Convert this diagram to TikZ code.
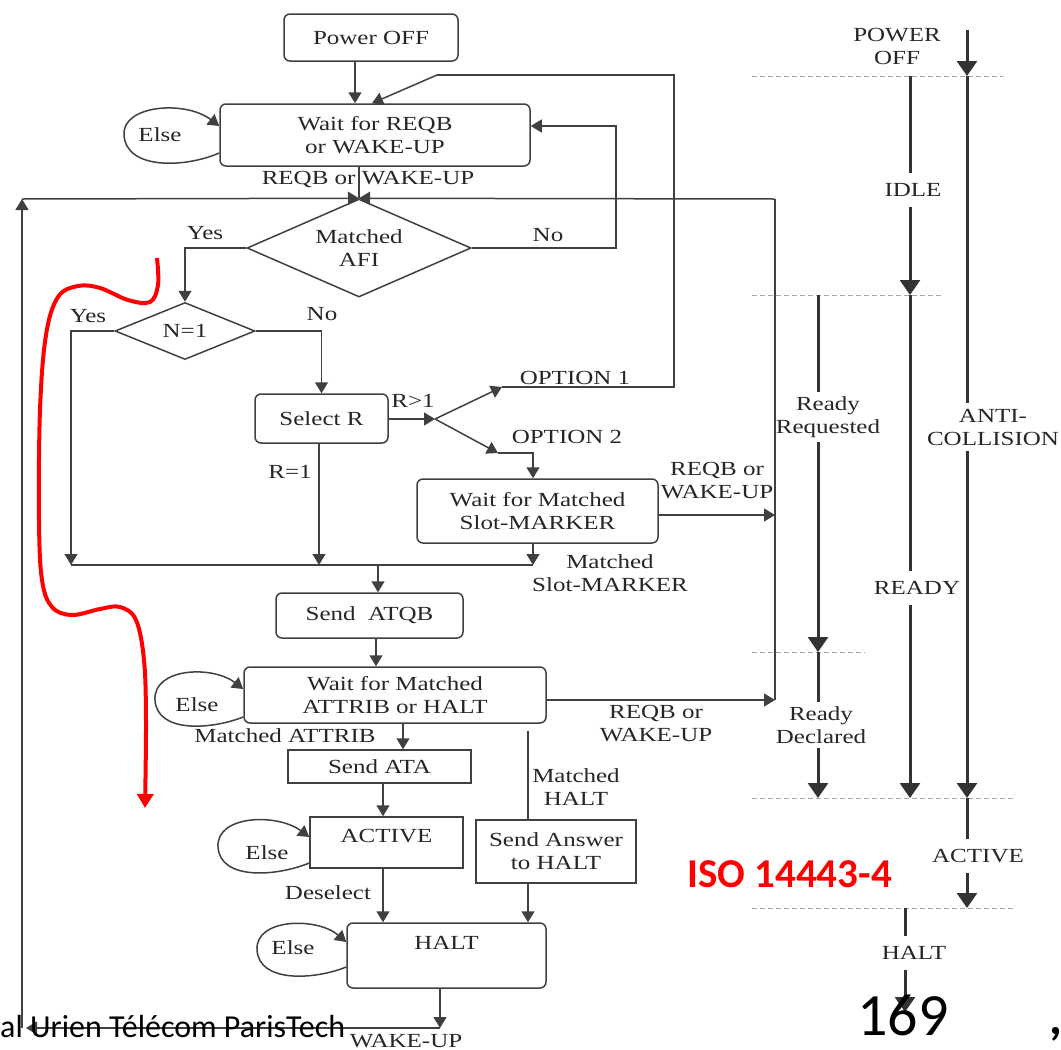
\documentclass[tikz,border=0pt]{standalone}
\usepackage{fontspec}
\setmainfont{Liberation Serif}[FakeStretch=1.25]
\newfontfamily\slidefont{Carlito}
\usetikzlibrary{arrows.meta,shapes.geometric}

\begin{document}
\begin{tikzpicture}[x=1pt,y=-1pt,font=\fontsize{20}{23}\selectfont,
	every node/.style={text=black!85},
	wire/.style={black!75,line width=1.5},
	arr/.style={wire,-{Triangle[width=13pt,length=11pt]}},
	stbox/.style={draw=black!75,line width=1.5,rounded corners=6pt,align=center,inner sep=0pt},
	sqbox/.style={draw=black!75,line width=1.5,align=center,inner sep=0pt},
	test/.style={diamond,draw=black!75,line width=1.5,inner sep=0pt,align=center},
	flow/.style={black!80,line width=3},
	flowarr/.style={flow,-{Triangle[width=20pt,length=15pt]}},
	phase/.style={gray!70,line width=1,dash pattern=on 5pt off 3pt},
	stlabel/.style={align=center,inner sep=10pt}]
	\useasboundingbox (0,0) rectangle (1061,1050);
	% flow chart
	\node[stbox,minimum width=174pt,minimum height=47pt] (poff) at (371,37.5) {Power OFF};
	\node[stbox,minimum width=310pt,minimum height=62pt] (wreq) at (375,135) {Wait for REQB\\or WAKE-UP};
	\node[test,aspect=2.3,minimum width=224pt,minimum height=98pt] (afi) at (359,248) {Matched\\AFI};
	\node[test,aspect=2.5,minimum width=140pt,minimum height=57pt] (n1) at (185,331) {N=1};
	\node[stbox,minimum width=133pt,minimum height=49pt] (selr) at (321.5,418.5) {Select R};
	\node[stbox,minimum width=241pt,minimum height=64pt] (wslot) at (537.5,511) {Wait for Matched\\Slot-MARKER};
	\node[stbox,minimum width=187pt,minimum height=45pt] (atqb) at (369.5,615.5) {Send~~ATQB};
	\node[stbox,minimum width=302pt,minimum height=56pt] (watt) at (395,695) {Wait for Matched\\ATTRIB or HALT};
	\node[sqbox,minimum width=183pt,minimum height=33pt] (ata) at (379.5,766.5) {Send ATA};
	\node[sqbox,minimum width=153pt,minimum height=51pt,label={[yshift=6pt]center:ACTIVE}] (act) at (386.5,842.5) {};
	\node[sqbox,minimum width=160pt,minimum height=63pt] (ansh) at (556,851.5) {Send Answer\\to HALT};
	\node[stbox,minimum width=199pt,minimum height=65pt,label={[yshift=13pt]center:HALT}] (halt) at (446.5,955.5) {};
	% labels
	\node (lreq) at (368,179) {REQB or WAKE-UP};
	\node (lyes1) at (205,233) {Yes};
	\node (lno1) at (548,235) {No};
	\node (lyes2) at (88,316) {Yes};
	\node (lno2) at (322,314) {No};
	\node (lrg) at (413,401) {R>1};
	\node (lr1) at (290,472) {R=1};
	\node (lo1) at (575,378) {OPTION 1};
	\node (lo2) at (567,437) {OPTION 2};
	\node[align=center] (lreq2) at (717,481) {REQB or\\WAKE-UP};
	\node[align=center] (lmsm) at (610,573) {Matched\\Slot-MARKER};
	\node (lmat) at (285,736) {Matched ATTRIB};
	\node[align=center] (lreq3) at (656,724) {REQB or\\WAKE-UP};
	\node[align=center] (lmh) at (576,787) {Matched\\HALT};
	\node (ldes) at (328,893) {Deselect};
	\node[anchor=base,inner sep=0pt] (lwk) at (406,1047) {WAKE-UP};
	\node (else1) at (160,135) {Else};
	\node (else2) at (197,705) {Else};
	\node (else3) at (267,853) {Else};
	\node (else4) at (293,948) {Else};
	% connectors
	\draw[arr] (poff.south -| 355,0) -- (wreq.north -| 355,0);
	\draw[wire] (afi.north |- wreq.south) -- (afi.north);
	\draw[arr] (afi.east) -- (616,248) -- (616,126) -- (wreq.east |- 0,126);
	\draw[arr] (afi.west) -- (n1.north |- afi.west) -- (n1.north);
	\coordinate (m1) at (71,565);
	\draw[arr] (n1.west) -- (m1 |- n1.west) -- (m1);
	\draw[arr] (n1.east) -- (selr.north |- n1.east) -- (selr.north);
	\coordinate (fork) at (435,419);
	\draw[arr] (selr.east |- fork) -- (fork);
	\draw[arr] (fork) -- (502,387) coordinate (o1);
	\draw[arr] (fork) -- (498,453) coordinate (o2);
	\draw[wire] (o1) -- (674,387) -- (674,75) -- (437,75) coordinate (back);
	\draw[arr] (back) -- (wreq.north -| 372,0);
	\draw[arr] (o2) -- (533,453) -- (wslot.north -| 533,0);
	\draw[arr] (selr.south -| 319,0) -- (319,565);
	\draw[wire] (m1) -- (533,565);
	\draw[arr] (wslot.south -| 533,0) -- (533,565);
	\draw[arr] (378,565) -- (atqb.north -| 378,0);
	\draw[arr] (atqb.south -| 376,0) -- (watt.north -| 376,0);
	\draw[arr] (watt.south -| 403,0) -- (ata.north -| 403,0);
	\draw[arr] (ata.south -| 383,0) -- (act.north -| 383,0);
	\draw[arr] (act.south -| 383,0) -- (halt.north -| 383,0);
	\draw[wire] (watt.south -| 528,0) ++(0,7) -- (ansh.north -| 528,0);
	\draw[arr] (ansh.south -| 528,0) -- (halt.north -| 528,0);
	\coordinate (busT) at (775,199);
	\coordinate (busB) at (775,700);
	\draw[arr] (wslot.east |- 0,515) -- (775,515);
	\draw[arr] (watt.east |- 0,700) -- (busB);
	\draw[wire] (busB) -- (busT);
	\draw[arr] (busT) -- (afi.north);
	\draw[arr] (halt.south -| 440,0) -- (440,1028) coordinate (wk);
	\draw[arr] (wk) -- (26,1028);
	\draw[arr] (22,1028) -- (22,199) coordinate (up);
	\draw[arr] (up) -- (afi.north);
	% else loops
	\draw[arr] (wreq.west |- 0,153) .. controls (185,168) and (126,170) .. (124,135) .. controls (122,105) and (185,100) .. (wreq.west |- 0,126);
	\draw[arr] (watt.west |- 0,717) .. controls (210,730) and (157,733) .. (155,700) .. controls (153,668) and (212,665) .. (watt.west |- 0,689);
	\draw[arr] (act.west |- 0,863) .. controls (275,877) and (220,880) .. (218,847) .. controls (216,815) and (277,813) .. (act.west |- 0,837);
	\draw[arr] (halt.west |- 0,967) .. controls (314,980) and (259,983) .. (257,950) .. controls (255,918) and (317,917) .. (halt.west |- 0,942);
	% state column
	\foreach \y/\xa/\xb in {76/752/1003,295/752/943,652/752/865,798/752/1015,908/752/1015} \draw[phase] (\xa,\y) -- (\xb,\y);
	\node[stlabel,inner sep=2pt] (spoff) at (897,46) {POWER\\OFF};
	\node[stlabel] (sidle) at (913,190) {IDLE};
	\node[stlabel,inner sep=4pt] (sreq) at (828,417) {Ready\\Requested};
	\node[stlabel,inner sep=6pt] (santi) at (993,427) {ANTI-\\COLLISION};
	\node[stlabel] (sready) at (917,588) {READY};
	\node[stlabel,inner sep=4pt] (sdecl) at (821,725) {Ready\\Declared};
	\node[stlabel] (sact) at (978,856) {ACTIVE};
	\node[stlabel] (shalt) at (914,953) {HALT};
	\draw[flowarr] (967,30) -- (967,76);
	\draw[flow] (967,76) -- (santi.north -| 967,0);
	\draw[flowarr] (santi.south -| 967,0) -- (967,798);
	\draw[flow] (967,798) -- (sact.north -| 967,0);
	\draw[flowarr] (sact.south -| 967,0) -- (967,908);
	\draw[flow] (910,76) -- (sidle.north -| 910,0);
	\draw[flowarr] (sidle.south -| 910,0) -- (910,295);
	\draw[flow] (910,295) -- (sready.north -| 910,0);
	\draw[flowarr] (sready.south -| 910,0) -- (910,798);
	\draw[flow] (818,295) -- (sreq.north -| 818,0);
	\draw[flowarr] (sreq.south -| 818,0) -- (818,652);
	\draw[flow] (818,652) -- (sdecl.north -| 818,0);
	\draw[flowarr] (sdecl.south -| 818,0) -- (818,798);
	\draw[flow] (905,908) -- (shalt.north -| 905,0);
	\draw[flowarr] (shalt.south -| 905,0) -- (905,1012);
	% slide overlay
	\draw[red,line width=4,-{Triangle[width=16pt,length=14pt]}] plot[smooth,tension=0.6] coordinates {(157,258) (158,285) (150,302) (128,300) (100,288) (78,286) (58,297) (46,335) (40,410) (39,520) (42,580) (52,607) (72,615) (100,609) (120,607) (136,620) (144,660) (146,720) (145,808)};
	\node[anchor=base west,font=\slidefont\bfseries\fontsize{41}{46}\selectfont,text=red,inner sep=0pt] (iso) at (687,887) {ISO 14443-4};
	\node[anchor=base west,font=\slidefont\fontsize{32}{36}\selectfont,text=black,inner sep=0pt] (foot) at (0,1037) {al Urien Télécom ParisTech};
	\node[anchor=base,font=\slidefont\fontsize{60}{66}\selectfont,text=black,inner sep=0pt] (page) at (903,1035) {169};
	\node[anchor=base west,font=\slidefont\bfseries\fontsize{50}{56}\selectfont,text=black,inner sep=0pt] (mark) at (1049,1034) {,};
\end{tikzpicture}
\end{document}
